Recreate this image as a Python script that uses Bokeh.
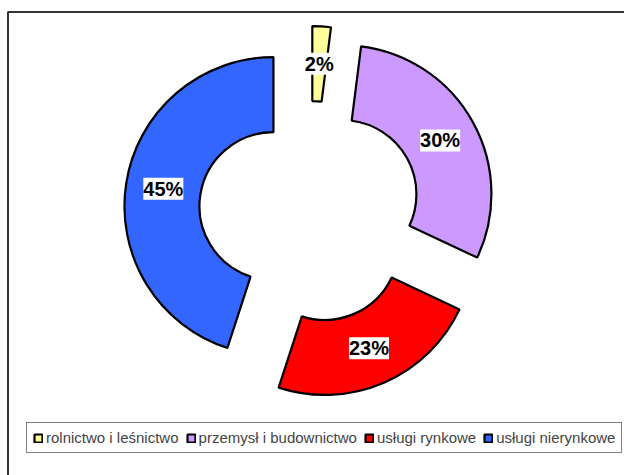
import numpy as np
from bokeh.plotting import figure
from bokeh.models import ColumnDataSource, Range1d, LabelSet
from bokeh.core.properties import value
from bokeh.embed import file_html
from bokeh.resources import INLINE

# ---- data ----
categories = ["rolnictwo i leśnictwo", "przemysł i budownictwo", "usługi rynkowe", "usługi nierynkowe"]
shares = [2, 30, 23, 45]
colors = ["#FFFF99", "#CC99FF", "#FF0000", "#3366FF"]
pct_labels = [f"{v}%" for v in shares]

# ---- layout (pixels, 1 data unit = 1 px) ----
W, H = 624, 475
cx, cy = 309.5, 263.5
R_out, R_in = 149, 74
explode = 37

frac = np.array(shares, dtype=float) / sum(shares)
cum = np.concatenate([[0.0], np.cumsum(frac)])
start = np.pi / 2 - 2 * np.pi * cum[1:]
end = np.pi / 2 - 2 * np.pi * cum[:-1]
mid = (start + end) / 2
xs = cx + explode * np.cos(mid)
ys = cy + explode * np.sin(mid)
rm = (R_out + R_in) / 2
lx = xs + rm * np.cos(mid)
ly = ys + rm * np.sin(mid)

src = ColumnDataSource(dict(x=xs, y=ys, start=start, end=end, color=colors,
                            cat=categories, lx=lx, ly=ly, txt=pct_labels))

p = figure(width=W, height=H, x_range=Range1d(0, W), y_range=Range1d(0, H),
           output_backend="svg", toolbar_location=None, min_border=0,
           x_axis_location=None, y_axis_location=None, outline_line_color=None,
           background_fill_color="white", border_fill_color="white")
p.grid.visible = False

# chart-area frame (left and top edges visible)
p.line(x=[7.5, 7.5, W], y=[0, H - 11.5, H - 11.5], line_color="#333333", line_width=2)

p.annular_wedge(x="x", y="y", inner_radius=R_in, outer_radius=R_out,
                start_angle="start", end_angle="end", fill_color="color",
                line_color="black", line_width=2.2, source=src, legend_field="cat")

labels = LabelSet(x="lx", y="ly", text="txt", source=src, text_align="center",
                  text_baseline="middle", text_font=value("Liberation Sans"),
                  text_font_style="bold", text_font_size=value("20px"),
                  text_color="black", background_fill_color="white")
p.add_layout(labels)

lg = p.legend[0]
lg.orientation = "horizontal"
lg.location = (26, 22)
lg.margin = 0
lg.padding = 6
lg.spacing = 7
lg.glyph_width = 10
lg.glyph_height = 10
lg.label_standoff = 3
lg.label_height = 9
lg.label_text_font = "Liberation Sans"
lg.label_text_font_size = "15px"
lg.border_line_color = "black"
lg.border_line_width = 1
lg.background_fill_color = "white"
lg.background_fill_alpha = 1

open("out.html", "w").write(file_html(p, INLINE))
